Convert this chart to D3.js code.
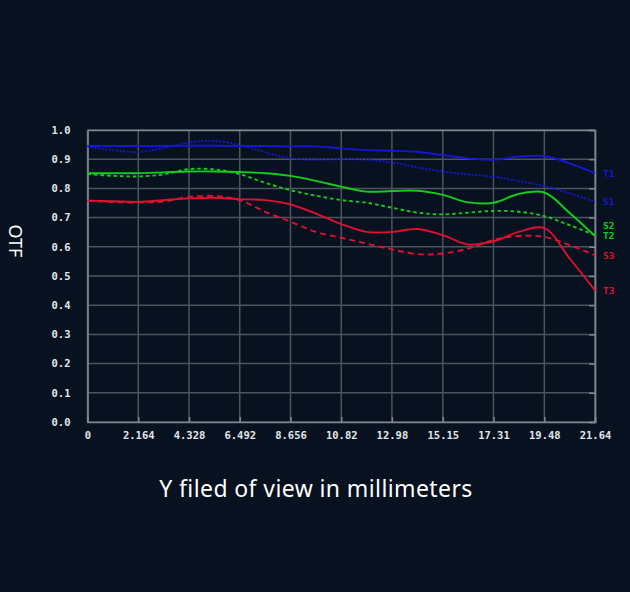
<!DOCTYPE html>
<html lang="en">
<head>
    <meta charset="UTF-8">
    <title>OTF chart</title>
    <style>
        html, body { margin: 0; padding: 0; background: #07111f; }
    </style>
</head>
<body>
    <div id="container"></div>

    <script type="text/javascript" src="https://d3js.org/d3.v7.min.js"></script>
    <script type="text/javascript">
        // field positions (mm) where the curves were sampled
        var fieldPos = [0, 1.082, 2.164, 3.246, 4.328, 5.41, 6.492, 7.574, 8.656, 9.738, 10.82,
            11.9, 12.98, 14.07, 15.15, 16.23, 17.31, 18.39, 19.48, 20.56, 21.64];

        var xTickValues = [0, 2.164, 4.328, 6.492, 8.656, 10.82, 12.98, 15.15, 17.31, 19.48, 21.64];
        var xTickLabels = ["0", "2.164", "4.328", "6.492", "8.656", "10.82", "12.98", "15.15", "17.31", "19.48", "21.64"];
        var yTickValues = [0, 0.1, 0.2, 0.3, 0.4, 0.5, 0.6, 0.7, 0.8, 0.9, 1.0];

        var t1 = [0.945, 0.945, 0.945, 0.945, 0.946, 0.946, 0.945, 0.945, 0.944, 0.944, 0.937,
            0.931, 0.929, 0.925, 0.914, 0.903, 0.898, 0.909, 0.911, 0.886, 0.852];
        var s1 = [0.943, 0.931, 0.925, 0.938, 0.958, 0.963, 0.949, 0.924, 0.903, 0.898, 0.9,
            0.898, 0.889, 0.872, 0.858, 0.848, 0.84, 0.825, 0.808, 0.783, 0.754];
        var s2 = [0.849, 0.843, 0.841, 0.848, 0.866, 0.865, 0.849, 0.819, 0.794, 0.775, 0.76,
            0.751, 0.734, 0.717, 0.711, 0.717, 0.723, 0.72, 0.705, 0.674, 0.64];
        var t2 = [0.852, 0.852, 0.852, 0.855, 0.858, 0.858, 0.856, 0.852, 0.843, 0.826, 0.806,
            0.789, 0.791, 0.792, 0.778, 0.752, 0.751, 0.781, 0.786, 0.716, 0.637];
        var s3 = [0.758, 0.753, 0.752, 0.755, 0.771, 0.774, 0.76, 0.72, 0.686, 0.651, 0.631,
            0.611, 0.591, 0.575, 0.577, 0.594, 0.623, 0.637, 0.634, 0.606, 0.571];
        var t3 = [0.758, 0.756, 0.754, 0.76, 0.766, 0.768, 0.763, 0.76, 0.745, 0.714, 0.678,
            0.651, 0.651, 0.661, 0.64, 0.608, 0.619, 0.651, 0.664, 0.56, 0.451];

        var seriesNames = ["T1", "S1", "S2", "T2", "S3", "T3"];
        var seriesValues = [t1, s1, s2, t2, s3, t3];

        var blue = "#1616d8", green = "#14cc1c", red = "#e01030";
        var styles = {
            T1: { color: blue, dash: null },
            S1: { color: blue, dash: "2,1.6" },
            S2: { color: green, dash: "3.5,3" },
            T2: { color: green, dash: null },
            S3: { color: red, dash: "6,4" },
            T3: { color: red, dash: null }
        };

        var width = 630, height = 592;
        var margin = { left: 87.5, right: 35, top: 130, bottom: 170 };

        var svg = d3.select("#container")
            .append("svg")
            .attr("width", width)
            .attr("height", height)
            .style("display", "block");

        svg.append("rect")
            .attr("width", width)
            .attr("height", height)
            .attr("fill", "#07111f");

        var x = d3.scaleLinear()
            .domain([0, 21.64])
            .range([margin.left, width - margin.right]);
        var y = d3.scaleLinear()
            .domain([0, 1])
            .range([height - margin.bottom, margin.top]);

        // grid
        var gridColor = "#4e535c";
        var grid = svg.append("g");
        grid.selectAll("line.h")
            .data(yTickValues)
            .enter()
                .append("line")
                .attr("x1", x(0))
                .attr("x2", x(21.64))
                .attr("y1", function(d) { return y(d); })
                .attr("y2", function(d) { return y(d); })
                .attr("stroke", gridColor)
                .attr("stroke-width", 1.5);
        grid.selectAll("line.v")
            .data(xTickValues)
            .enter()
                .append("line")
                .attr("x1", function(d) { return x(d); })
                .attr("x2", function(d) { return x(d); })
                .attr("y1", y(0))
                .attr("y2", y(1))
                .attr("stroke", gridColor)
                .attr("stroke-width", 1.5);

        // axes with short inner ticks
        var tickFont = "'DejaVu Sans Mono', monospace";

        var xAxis = svg.append("g")
            .attr("transform", "translate(0," + y(0) + ")")
            .call(d3.axisBottom(x)
                .tickValues(xTickValues)
                .tickFormat(function(d, i) { return xTickLabels[i]; })
                .tickSize(-5)
                .tickPadding(10));
        var yAxis = svg.append("g")
            .attr("transform", "translate(" + x(0) + ",0)")
            .call(d3.axisLeft(y)
                .tickValues(yTickValues)
                .tickFormat(d3.format(".1f"))
                .tickSize(0)
                .tickPadding(17));
        var rAxis = svg.append("g")
            .attr("transform", "translate(" + x(21.64) + ",0)")
            .call(d3.axisRight(y)
                .tickValues(yTickValues)
                .tickFormat("")
                .tickSize(-6));
        var tAxis = svg.append("g")
            .attr("transform", "translate(0," + y(1) + ")")
            .call(d3.axisTop(x)
                .tickValues(xTickValues)
                .tickFormat("")
                .tickSize(0));

        [xAxis, yAxis, rAxis, tAxis].forEach(function(a) {
            a.select(".domain").attr("stroke", "#80858e").attr("stroke-width", 1.7);
            a.selectAll(".tick line").attr("stroke", "#80858e").attr("stroke-width", 1.5);
            a.selectAll("text")
                .attr("fill", "#e4e6ea")
                .style("font-family", tickFont)
                .style("font-weight", "bold")
                .style("font-size", "10.5px");
        });

        // curves
        var line = d3.line()
            .x(function(d) { return x(d[0]); })
            .y(function(d) { return y(d[1]); })
            .curve(d3.curveCatmullRom.alpha(0.5));

        var curves = svg.append("g");
        seriesNames.forEach(function(name, i) {
            var pts = fieldPos.map(function(p, j) { return [p, seriesValues[i][j]]; });
            curves.append("path")
                .datum(pts)
                .attr("d", line)
                .attr("fill", "none")
                .attr("stroke", styles[name].color)
                .attr("stroke-width", 1.9)
                .attr("stroke-dasharray", styles[name].dash);
        });

        // end labels, nudged apart when they collide
        var lastIdx = fieldPos.length - 1;
        var labelGap = 10.5;
        var labelY = seriesNames.map(function(name, i) { return y(seriesValues[i][lastIdx]); });
        for (var k = labelY.length - 2; k >= 0; k--) {
            if (labelY[k + 1] - labelY[k] < labelGap) labelY[k] = labelY[k + 1] - labelGap;
        }
        svg.append("g")
            .selectAll("text")
            .data(seriesNames)
            .enter()
                .append("text")
                .attr("x", x(21.64) + 8)
                .attr("y", function(d, i) { return labelY[i]; })
                .attr("dy", "0.35em")
                .attr("fill", function(d) { return styles[d].color; })
                .style("font-family", tickFont)
                .style("font-weight", "bold")
                .style("font-size", "9.5px")
                .text(function(d) { return d; });

        // titles
        svg.append("text")
            .attr("transform", "translate(15," + (y(0.62)) + ") rotate(90)")
            .attr("text-anchor", "middle")
            .attr("dy", "0.35em")
            .attr("fill", "#ffffff")
            .style("font-family", "'Noto Sans', sans-serif")
            .style("font-size", "18px")
            .text("OTF");

        svg.append("text")
            .attr("x", 316)
            .attr("y", 489)
            .attr("text-anchor", "middle")
            .attr("dy", "0.35em")
            .attr("fill", "#ffffff")
            .style("font-family", "'Noto Sans', sans-serif")
            .style("font-size", "23px")
            .style("letter-spacing", "0.4px")
            .text("Y filed of view in millimeters");
    </script>
</body>
</html>
